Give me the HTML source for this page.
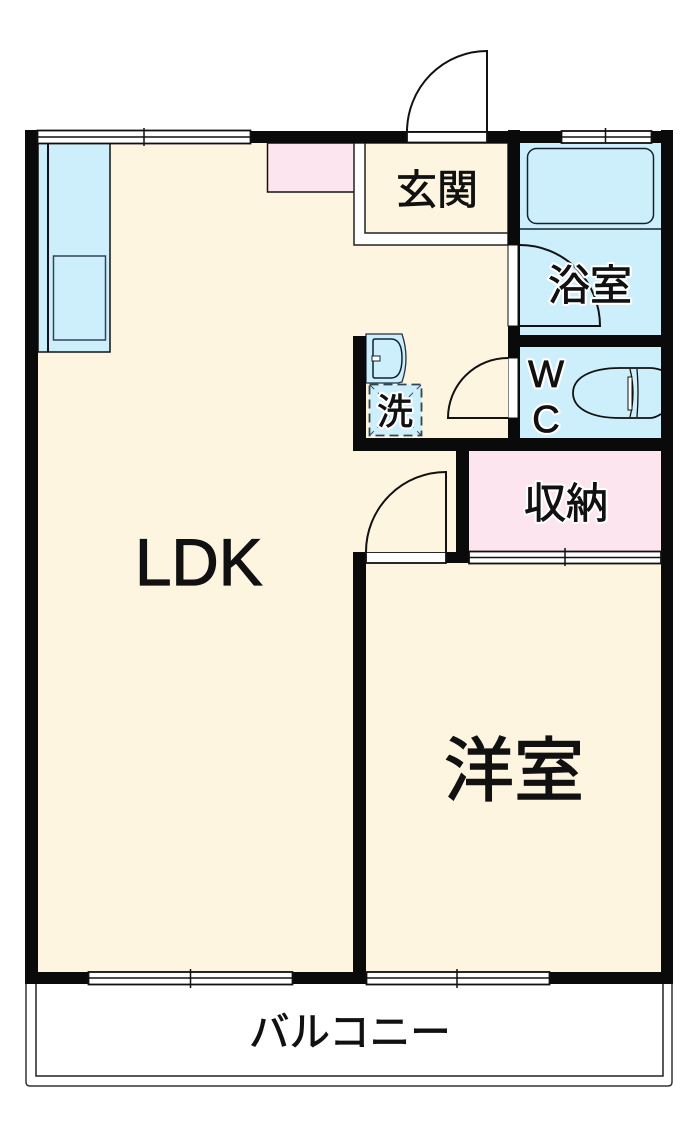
<!DOCTYPE html>
<html><head><meta charset="utf-8"><style>
html,body{margin:0;padding:0;background:#fff}
svg{display:block}
text{font-family:"Liberation Sans","Noto Sans CJK JP",sans-serif;fill:#111}
.t{stroke:#111;stroke-width:.8px}
.h{fill:#fff;stroke:#fff;stroke-width:5px;stroke-linejoin:round}
</style></head><body>
<svg width="700" height="1133" viewBox="0 0 700 1133" xmlns="http://www.w3.org/2000/svg">
<!-- balcony -->
<path d="M26 984V1082Q26 1086 30 1086H668Q672 1086 672 1082V984" fill="#fff" stroke="#333" stroke-width="1.5"/>
<path d="M36 984V1076H663V984" fill="none" stroke="#222" stroke-width="1.5"/>
<!-- floors -->
<rect x="38" y="143" width="623" height="829" fill="#fef5e0"/>
<!-- kitchen -->
<rect x="38" y="143" width="72" height="209" fill="#cdeefb" stroke="#111" stroke-width="1.5"/>
<line x1="48" y1="143" x2="48" y2="352" stroke="#112" stroke-width="2"/>
<rect x="53.500" y="256" width="52" height="84" fill="#cdeefb" stroke="#345" stroke-width="1.5"/>
<!-- pink -->
<rect x="267.500" y="143" width="87" height="49" fill="#fce5ef" stroke="#111" stroke-width="1.5"/>
<!-- genkan band -->
<rect x="354" y="143" width="154" height="102" fill="#fff" stroke="#222" stroke-width="1.500"/>
<rect x="365" y="143" width="143" height="90" fill="#fef5e0" stroke="#222" stroke-width="1.500"/>
<!-- bath -->
<rect x="520" y="143" width="141" height="192" fill="#cdeefb"/>
<rect x="527.500" y="148.500" width="126" height="75" rx="9" fill="#cdeefb" stroke="#123" stroke-width="1.500"/>
<line x1="520" y1="229" x2="661" y2="229" stroke="#123" stroke-width="1.500"/>
<path d="M520 245A80 81 0 0 1 600 326H520" fill="none" stroke="#111" stroke-width="2"/>
<!-- WC -->
<rect x="520" y="347" width="141" height="91" fill="#cdeefb"/>
<path d="M661 370Q655 368 650 368H620C590 368 573 378 573 393C573 408 590 418 620 418H650Q655 418 661 414" fill="#cdeefb" stroke="#111" stroke-width="1.800"/>
<path d="M630 369Q636 393 630 417M637 369Q639 393 637 417" fill="none" stroke="#111" stroke-width="1.300"/>
<rect x="628" y="377" width="4" height="33" fill="#fff" stroke="#111"/>
<!-- closet -->
<rect x="469" y="451" width="192" height="101" fill="#fce5ef"/>
<!-- sink -->
<path d="M366 334H402Q410 358 402 382L398 383H366Z" fill="#cdeefb" stroke="#234" stroke-width="1.300"/>
<path d="M375 339H391Q402 339 402 358Q402 378 391 378H375Q373 378 373 376V341Q373 339 375 339Z" fill="none" stroke="#123" stroke-width="1.500"/>
<rect x="372" y="356" width="8" height="5" fill="#fff" stroke="#123"/>
<!-- laundry -->
<rect x="369.500" y="384.500" width="52" height="51" fill="#cdeefb" stroke="#345" stroke-width="1.800" stroke-dasharray="9 5"/>
<path d="M370 385L421 435M421 385L370 435" stroke="#345" stroke-width="1" stroke-dasharray="6 5"/>
<!-- walls -->
<g fill="#0a0a0a">
<rect x="25" y="130" width="13" height="854"/>
<rect x="25" y="131" width="648" height="12"/>
<rect x="661" y="130" width="12" height="854"/>
<rect x="25" y="972" width="648" height="12"/>
<rect x="353" y="552" width="13" height="432"/>
<rect x="508" y="130" width="12" height="308"/>
<rect x="508" y="335" width="165" height="12"/>
<rect x="353" y="336" width="13" height="115"/>
<rect x="353" y="438" width="320" height="13"/>
<rect x="456" y="438" width="13" height="125"/>
<rect x="446" y="552" width="23" height="11"/>
</g>
<!-- windows and thresholds -->
<g fill="#fff" stroke="#111" stroke-width="1.800">
<rect x="37.500" y="130.500" width="213" height="13"/>
<rect x="561.500" y="131" width="90" height="12"/>
<rect x="469" y="551.500" width="192" height="12"/>
<rect x="88.500" y="972" width="204" height="12.500"/>
<rect x="366.500" y="972" width="183" height="12.500"/>
<rect x="407" y="132" width="80" height="10.500"/>
<rect x="366" y="552" width="80" height="11"/>
<rect x="508" y="245" width="10" height="81" stroke-width="1"/>
<rect x="508" y="358" width="10" height="60" stroke-width="1"/>
</g>
<g stroke="#111" stroke-width="1.500" fill="none">
<path d="M38 137H250M562 137H651M469 557.500H661M89 978H292M367 978H549"/>
</g>
<g stroke="#111" stroke-width="1.500">
<path d="M144 128V146M605.500 128V143M565 548V566M190.500 969V988M457 969V988"/>
</g>
<!-- doors -->
<g fill="none" stroke="#111" stroke-width="2">
<path d="M407 132A80 81 0 0 1 487 51V132"/>
<path d="M366 552A80 80 0 0 1 446 472V552" fill="#fef5e0"/>
<path d="M508 358A60 60 0 0 0 448 418H508" fill="#fef5e0"/>
</g>
<!-- labels -->
<text class="t" x="135" y="585" font-size="65.500" style="stroke-width:1.2px">LDK</text>
<text class="t" x="444" y="795" font-size="70" style="stroke-width:1.4px">洋室</text>
<text class="t" x="396" y="204" font-size="41">玄関</text>
<text class="h" x="548" y="300" font-size="42">浴室</text>
<text class="t" x="548" y="300" font-size="42">浴室</text>
<text class="h" x="524" y="518" font-size="42">収納</text>
<text class="t" x="524" y="518" font-size="42">収納</text>
<text class="h" x="377" y="424" font-size="36">洗</text>
<text class="t" x="377" y="424" font-size="36">洗</text>
<text class="h" x="546" y="387" font-size="38" text-anchor="middle">W</text>
<text class="t" x="546" y="387" font-size="38" text-anchor="middle">W</text>
<text class="h" x="546" y="432" font-size="38" text-anchor="middle">C</text>
<text class="t" x="546" y="432" font-size="38" text-anchor="middle">C</text>
<text class="t" x="249" y="1046" font-size="40.500">バルコニー</text>
</svg>
</body></html>
